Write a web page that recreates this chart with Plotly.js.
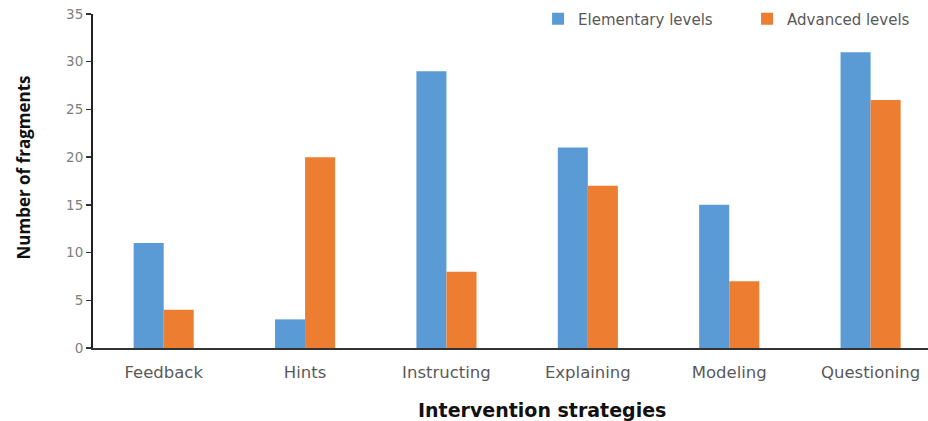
<!DOCTYPE html>
<html>
<head>
<meta charset="utf-8">
<script src="https://cdn.plot.ly/plotly-3.0.1.min.js"></script>
<style>html,body{margin:0;padding:0;background:#fff;}#chart{width:928px;height:421px;}</style>
</head>
<body>
<div id="chart"></div>
<script>
var categories = ["Feedback", "Hints", "Instructing", "Explaining", "Modeling", "Questioning"];
var elementary = [11, 3, 29, 21, 15, 31];
var advanced = [4, 20, 8, 17, 7, 26];
var yTicks = [0, 5, 10, 15, 20, 25, 30, 35];
var xTitle = "Intervention strategies";
var yTitle = "Number of fragments";

var wide = "DejaVu Sans, sans-serif";
var narrow = "Open Sans, Noto Sans, sans-serif";
var data = [
  {type: "bar", name: "Elementary levels", x: categories, y: elementary, marker: {color: "#5B9BD5"}},
  {type: "bar", name: "Advanced levels", x: categories, y: advanced, marker: {color: "#ED7D31"}}
];
var layout = {
  width: 928, height: 421,
  margin: {l: 93, r: 0, t: 14, b: 73, autoexpand: false},
  paper_bgcolor: "#fff", plot_bgcolor: "#fff",
  barmode: "group", bargap: 0.575, bargroupgap: 0,
  showlegend: true,
  legend: {orientation: "h", x: 0.533, y: 0.985, xanchor: "left", yanchor: "middle",
    font: {family: wide, size: 15, color: "#595959"}, traceorder: "normal", itemwidth: 30,
    entrywidth: 164, bgcolor: "rgba(0,0,0,0)"},
  xaxis: {
    type: "category", range: [-0.5, 5.406],
    showline: true, linecolor: "#333", linewidth: 2,
    ticks: "", showgrid: false, zeroline: false,
    ticklabelstandoff: 8,
    tickfont: {family: wide, size: 16.5, color: "#595959"}
  },
  yaxis: {
    range: [0, 35], tickvals: yTicks, ticktext: yTicks.map(String),
    showline: true, linecolor: "#222", linewidth: 2,
    ticks: "outside", ticklen: 5, tickwidth: 1.5, tickcolor: "#333",
    showgrid: false, zeroline: false,
    tickfont: {family: wide, size: 13.5, color: "#808080"}
  },
  annotations: [
    {text: xTitle, xref: "paper", yref: "paper", x: 0.5377, y: -0.1856, xanchor: "center", yanchor: "middle",
     showarrow: false, font: {family: wide, size: 19, color: "#111", weight: "bold"}},
    {text: yTitle, xref: "paper", yref: "paper", x: -0.0838, y: 0.5404, xanchor: "center", yanchor: "middle",
     textangle: -90, showarrow: false, font: {family: narrow, size: 17, color: "#111", weight: "bold"}}
  ]
};
Plotly.newPlot("chart", data, layout, {displayModeBar: false, staticPlot: true});
</script>
</body>
</html>
